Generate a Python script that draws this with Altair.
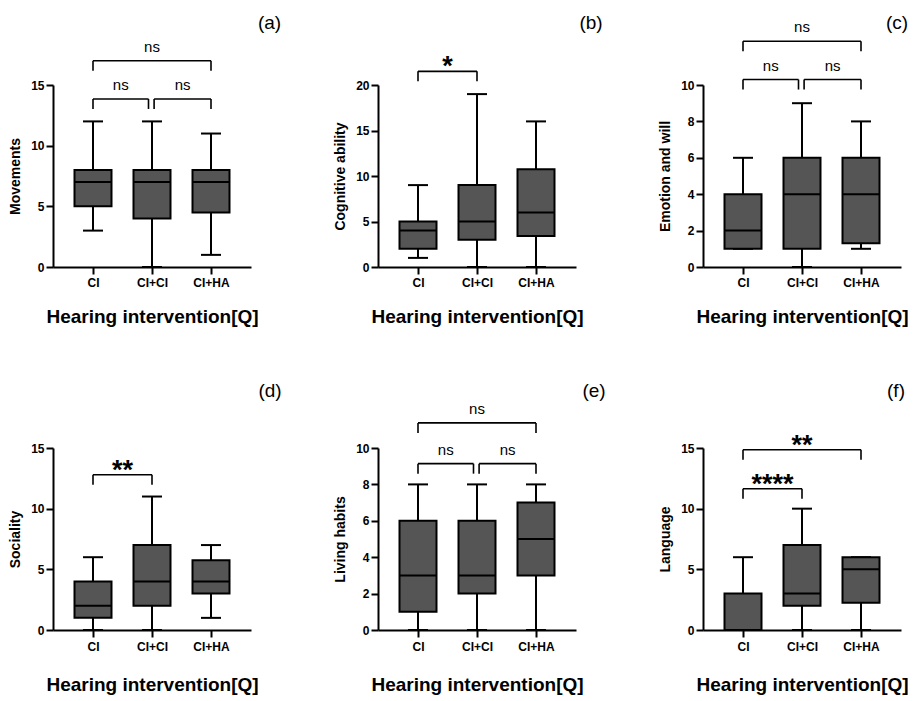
import json
import altair as alt
import pandas as pd

# ---------------- data ----------------
groups = ["CI", "CI+CI", "CI+HA"]
positions = [1, 2, 3]
x_title = "Hearing intervention[Q]"

panel_tags = ["(a)", "(b)", "(c)", "(d)", "(e)", "(f)"]
y_titles = ["Movements", "Cognitive ability", "Emotion and will",
            "Sociality", "Living habits", "Language"]
y_tops = [15, 20, 10, 15, 10, 15]
y_steps = [5, 5, 2, 5, 2, 5]

# five-number summaries for CI, CI+CI, CI+HA
a_min = [3, 0, 1]; a_q1 = [5, 4, 4.5]; a_med = [7, 7, 7]; a_q3 = [8, 8, 8]; a_max = [12, 12, 11]
b_min = [1, 0, 0]; b_q1 = [2, 3, 3.4]; b_med = [4, 5, 6]; b_q3 = [5, 9, 10.75]; b_max = [9, 19, 16]
c_min = [1, 0, 1]; c_q1 = [1, 1, 1.3]; c_med = [2, 4, 4]; c_q3 = [4, 6, 6]; c_max = [6, 9, 8]
d_min = [0, 0, 1]; d_q1 = [1, 2, 3]; d_med = [2, 4, 4]; d_q3 = [4, 7, 5.75]; d_max = [6, 11, 7]
e_min = [0, 0, 0]; e_q1 = [1, 2, 3]; e_med = [3, 3, 5]; e_q3 = [6, 6, 7]; e_max = [8, 8, 8]
f_min = [0, 0, 0]; f_q1 = [0, 2, 2.25]; f_med = [0, 3, 5]; f_q3 = [3, 7, 6]; f_max = [6, 10, 6]

# significance brackets: from group, to group, height (data units), label
a_br_from = [1, 1, 2]; a_br_to = [3, 2, 3]; a_br_at = [17.0, 13.85, 13.85]; a_br_text = ["ns", "ns", "ns"]
b_br_from = [1]; b_br_to = [2]; b_br_at = [21.5]; b_br_text = ["*"]
c_br_from = [1, 1, 2]; c_br_to = [3, 2, 3]; c_br_at = [12.4, 10.3, 10.3]; c_br_text = ["ns", "ns", "ns"]
d_br_from = [1]; d_br_to = [2]; d_br_at = [12.8]; d_br_text = ["**"]
e_br_from = [1, 1, 2]; e_br_to = [3, 2, 3]; e_br_at = [11.38, 9.14, 9.14]; e_br_text = ["ns", "ns", "ns"]
f_br_from = [1, 1]; f_br_to = [3, 2]; f_br_at = [14.86, 11.64]; f_br_text = ["**", "****"]

# ---------------- layout / style ----------------
FONT = "Liberation Sans"
W, H = 198, 182
x_lo, x_hi = 1 - 40 / 59, 3 + 40 / 59
px = W / (x_hi - x_lo)
box_half = 18.5 / px
cap_half = 10 / px
nudge = 3.5 / px
FILL = "#555555"
SW = 2

label_expr = json.dumps(groups) + "[datum.value - 1]"


def make_panel(i, mins, q1s, meds, q3s, maxs, bfrom, bto, bat, btext,
               tag_x, tag_y, label_pad, title_pad):
    ymax = y_tops[i]
    leg = 10 / H * ymax
    st = pd.DataFrame({"group": groups, "pos": positions, "min": mins, "q1": q1s,
                       "med": meds, "q3": q3s, "max": maxs})
    st["lo"] = st["pos"] - box_half
    st["hi"] = st["pos"] + box_half
    st["clo"] = st["pos"] - cap_half
    st["chi"] = st["pos"] + cap_half

    br = pd.DataFrame({"x1": [float(v) for v in bfrom], "x2": [float(v) for v in bto],
                       "y": bat, "label": btext})
    # nudge bracket ends that meet at a shared group at the same height
    for r in range(len(br)):
        for s in range(len(br)):
            if r != s and abs(br.loc[r, "y"] - br.loc[s, "y"]) < 1e-9 and bto[r] == bfrom[s]:
                br.loc[r, "x2"] = bto[r] - nudge
                br.loc[s, "x1"] = bfrom[s] + nudge * 0.6
    br["yl"] = br["y"] - leg
    br["xm"] = (br["x1"] + br["x2"]) / 2
    br["star"] = br["label"].str.contains(r"\*")

    xs = alt.Scale(domain=[x_lo, x_hi], nice=False, zero=False)
    ys = alt.Scale(domain=[0, ymax], nice=False, zero=True)
    xa = alt.Axis(values=positions, labelExpr=label_expr, title=x_title, grid=False,
                  labelPadding=label_pad, titlePadding=title_pad)
    ya = alt.Axis(values=list(range(0, ymax + 1, y_steps[i])), title=y_titles[i],
                  grid=False, labelPadding=2, titlePadding=8)

    def X(f):
        return alt.X(f, type="quantitative", scale=xs, axis=xa)

    def Y(f):
        return alt.Y(f, type="quantitative", scale=ys, axis=ya)

    base = alt.Chart(st)
    whisk = base.mark_rule(color="black", strokeWidth=SW).encode(x=X("pos"), y=Y("min"), y2="max")
    caps_top = base.mark_rule(color="black", strokeWidth=SW).encode(x=X("clo"), x2="chi", y=Y("max"))
    caps_bot = base.mark_rule(color="black", strokeWidth=SW).encode(x=X("clo"), x2="chi", y=Y("min"))
    box = base.mark_rect(fill=FILL, stroke="black", strokeWidth=SW).encode(
        x=X("lo"), x2="hi", y=Y("q1"), y2="q3")
    med = base.mark_rule(color="black", strokeWidth=SW).encode(x=X("lo"), x2="hi", y=Y("med"))

    bb = alt.Chart(br)
    bar = bb.mark_rule(color="black", strokeWidth=1.6).encode(x=X("x1"), x2="x2", y=Y("y"))
    legl = bb.mark_rule(color="black", strokeWidth=1.6).encode(x=X("x1"), y=Y("y"), y2="yl")
    legr = bb.mark_rule(color="black", strokeWidth=1.6).encode(x=X("x2"), y=Y("y"), y2="yl")
    ns = bb.transform_filter("!datum.star").mark_text(
        font=FONT, fontSize=15, color="black", baseline="alphabetic", dy=-9).encode(
        x=X("xm"), y=Y("y"), text="label:N")
    stars = bb.transform_filter("datum.star").mark_text(
        font=FONT, fontSize=27, fontWeight="bold", color="black", baseline="alphabetic", dy=4).encode(
        x=X("xm"), y=Y("y"), text="label:N")

    tag = alt.Chart(pd.DataFrame({"tag": [panel_tags[i]]})).mark_text(
        font=FONT, fontSize=19, color="black", align="center", baseline="alphabetic").encode(
        x=alt.value(tag_x), y=alt.value(tag_y), text="tag:N")

    return alt.layer(whisk, caps_top, caps_bot, box, med, bar, legl, legr, ns, stars, tag).properties(
        width=W, height=H)


pa = make_panel(0, a_min, a_q1, a_med, a_q3, a_max, a_br_from, a_br_to, a_br_at, a_br_text, 216.5, -56.5, 3, 19)
pb = make_panel(1, b_min, b_q1, b_med, b_q3, b_max, b_br_from, b_br_to, b_br_at, b_br_text, 213, -56.5, 3, 19)
pc = make_panel(2, c_min, c_q1, c_med, c_q3, c_max, c_br_from, c_br_to, c_br_at, c_br_text, 194, -56.5, 3, 19)
pd_ = make_panel(3, d_min, d_q1, d_med, d_q3, d_max, d_br_from, d_br_to, d_br_at, d_br_text, 217, -51, 4, 23)
pe = make_panel(4, e_min, e_q1, e_med, e_q3, e_max, e_br_from, e_br_to, e_br_at, e_br_text, 216, -51, 4, 23)
pf = make_panel(5, f_min, f_q1, f_med, f_q3, f_max, f_br_from, f_br_to, f_br_at, f_br_text, 193, -51, 4, 23)

chart = alt.concat(pa, pb, pc, pd_, pe, pf, columns=3,
                   spacing={"row": 181, "column": 127}, bounds="flush").properties(
    padding={"left": 8, "top": 13, "right": 0, "bottom": 0},
    background="white",
).configure_view(stroke="transparent").configure_axis(
    domainColor="black", domainWidth=2, tickColor="black", tickWidth=2, tickSize=7,
    labelFont=FONT, labelFontSize=12, labelFontWeight="bold", labelColor="black",
    titleFont=FONT, titleColor="black", titleFontWeight="bold",
).configure_axisX(titleFontSize=19).configure_axisY(titleFontSize=14)

chart.save("out.html", embed_options={"renderer": "svg", "actions": False})
